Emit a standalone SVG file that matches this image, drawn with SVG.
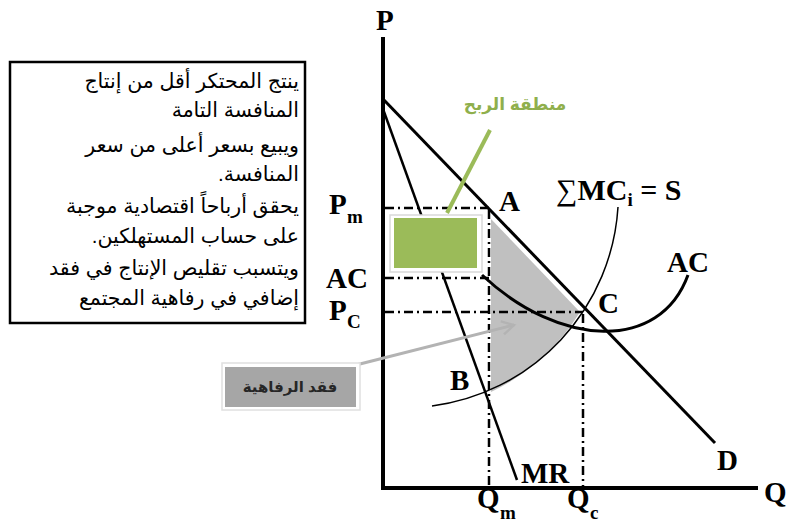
<svg xmlns="http://www.w3.org/2000/svg" width="787" height="527" viewBox="0 0 787 527">
<defs>
<marker id="chev" viewBox="0 0 12 12" refX="10" refY="6" markerWidth="18" markerHeight="18" orient="auto" markerUnits="userSpaceOnUse">
<path d="M2,1.5 L10,6 L2,10.5" fill="none" stroke="#b3b3b3" stroke-width="1.6"/>
</marker>
</defs>
<style>
.lbl{font-family:"Liberation Serif","Times New Roman",serif;font-weight:bold;font-size:29px;fill:#000}
.sub{font-family:"Liberation Serif","Times New Roman",serif;font-weight:bold;font-size:19px;fill:#000}
.ar{font-family:"Liberation Sans","DejaVu Sans",sans-serif;font-size:20.5px;fill:#000}
.dd{fill:none;stroke:#000;stroke-width:2.5;stroke-dasharray:9 4 2 4}
.ln{fill:none;stroke:#000}
</style>
<rect width="787" height="527" fill="#fff"/>

<g id="textbox">
<rect x="10" y="62" width="295" height="261" fill="#fff" stroke="#000" stroke-width="2.5"/>
<g class="ar" direction="rtl" text-anchor="start">
<text x="299" y="88">ينتج المحتكر أقل من إنتاج</text>
<text x="299" y="117">المنافسة التامة</text>
<text x="299" y="152">ويبيع بسعر أعلى من سعر</text>
<text x="299" y="181">المنافسة.</text>
<text x="299" y="213">يحقق أرباحاً اقتصادية موجبة</text>
<text x="299" y="243">على حساب المستهلكين.</text>
<text x="299" y="275">ويتسبب تقليص الإنتاج في فقد</text>
<text x="299" y="305">إضافي في رفاهية المجتمع</text>
</g>
</g>

<g id="welfare-area">
<path d="M491,219 L580,312 A214,214 0 0 1 491,392 Z" fill="#c0c0c0"/>
</g>

<g id="connectors">
<line class="ln" x1="383" y1="37" x2="383" y2="490" stroke-width="4"/>
<line class="ln" x1="381" y1="488" x2="758" y2="488" stroke-width="4"/>
<line class="ln" x1="383" y1="99" x2="715" y2="443" stroke-width="3"/>
<line class="ln" x1="383" y1="109" x2="517" y2="480" stroke-width="2.5"/>
<line class="dd" x1="385" y1="208" x2="490" y2="208"/>
<line class="dd" x1="385" y1="278" x2="489" y2="278"/>
<line class="dd" x1="385" y1="312" x2="583" y2="312"/>
<line class="dd" x1="489" y1="210" x2="489" y2="486"/>
<line class="dd" x1="583" y1="314" x2="583" y2="486"/>
<path class="ln" d="M482,275 C560,348 660,352 688,275" stroke-width="3"/>
<path class="ln" d="M432,406 A214,214 0 0 0 618,207" stroke-width="1.5"/>
<line x1="490" y1="130" x2="447" y2="213" stroke="#9bbb59" stroke-width="4"/>
<line x1="352" y1="366" x2="514" y2="325" stroke="#b3b3b3" stroke-width="3" marker-end="url(#chev)"/>
</g>

<g id="profit-box">
<rect x="390" y="215" width="92" height="57" fill="#fff" stroke="#d9d9d9" stroke-width="1.5"/>
<rect x="394" y="218" width="83" height="50" fill="#9bbb59"/>
</g>

<g id="profit-label">
<text x="515" y="110" text-anchor="middle" font-family="Liberation Sans, DejaVu Sans, sans-serif" font-weight="bold" font-size="17" fill="#8faf4c">منطقة الربح</text>
</g>

<g id="welfare-label">
<rect x="222" y="363" width="138" height="47" fill="#fff" stroke="#e0e0e0" stroke-width="1.5"/>
<rect x="225" y="367" width="131" height="40" fill="#a6a6a6"/>
<text x="290" y="392" text-anchor="middle" font-family="Liberation Sans, DejaVu Sans, sans-serif" font-weight="bold" font-size="15" fill="#262626">فقد الرفاهية</text>
</g>

<g id="labels">
<text class="lbl" x="376" y="30">P</text>
<text class="lbl" x="764" y="502">Q</text>
<text class="lbl" x="329" y="214">P</text><text class="sub" x="347" y="223">m</text>
<text class="lbl" x="326" y="288">AC</text>
<text class="lbl" x="329" y="320">P</text><text class="sub" x="347" y="328">C</text>
<text class="lbl" x="499" y="211">A</text>
<text class="lbl" x="450" y="390">B</text>
<text class="lbl" x="598" y="313">C</text>
<text class="lbl" x="717" y="470">D</text>
<text class="lbl" x="521" y="483">MR</text>
<text class="lbl" x="667" y="272">AC</text>
<text class="lbl" x="477" y="508">Q</text><text class="sub" x="500" y="519">m</text>
<text class="lbl" x="567" y="508">Q</text><text class="sub" x="590" y="519">c</text>
<text x="556" y="200" font-family="Liberation Serif, Times New Roman, serif" font-size="30"><tspan>∑</tspan><tspan font-weight="bold">MC</tspan><tspan font-weight="bold" font-size="19" dy="6">i</tspan><tspan font-weight="bold" dy="-6"> = S</tspan></text>
</g>
</svg>
